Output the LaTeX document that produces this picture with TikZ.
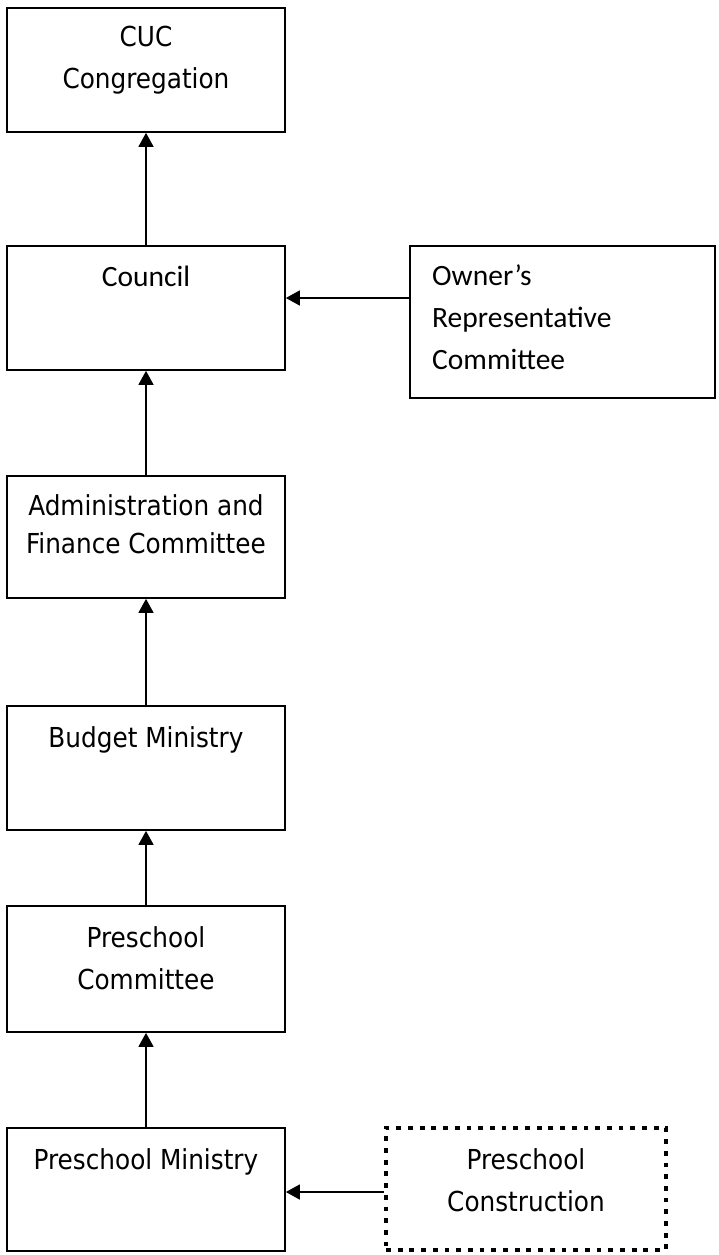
\documentclass[tikz,border=0pt]{standalone}
\usepackage{fontspec}
\setmainfont{DejaVu Sans Condensed}
\newfontfamily\calfont{Carlito}
\usetikzlibrary{arrows.meta}
\begin{document}
\begin{tikzpicture}[x=1pt,y=-1pt,
  box/.style={draw, line width=1.7pt, inner sep=0pt},
  dotbox/.style={draw, line width=4.5pt, dash pattern=on 4.8pt off 6.9pt, inner sep=0pt},
  txt/.style={font=\fontsize{27.5}{42}\selectfont, align=center, inner sep=0pt, anchor=north},
  ctxt/.style={font=\calfont\fontsize{29.5}{42}\selectfont, align=left, inner sep=0pt},
  arr/.style={line width=1.5pt, -{Triangle[width=15pt,length=14pt]}}]
\useasboundingbox (0,0) rectangle (718,1255);
% boxes
\node[box, minimum width=278pt, minimum height=124pt] (cuc) at (146,70) {};
\node[box, minimum width=278pt, minimum height=124pt] (council) at (146,308) {};
\node[box, minimum width=305pt, minimum height=152pt] (owner) at (562.5,322) {};
\node[box, minimum width=278pt, minimum height=122pt] (admin) at (146,537) {};
\node[box, minimum width=278pt, minimum height=124pt] (budget) at (146,768) {};
\node[box, minimum width=278pt, minimum height=126pt] (pcomm) at (146,969) {};
\node[box, minimum width=278pt, minimum height=123pt] (pmin) at (146,1189.5) {};
\node[dotbox, minimum width=280pt, minimum height=122pt] (pcons) at (526,1189) {};
% texts
\node[txt] (tcuc) at (146,26) {CUC\\Congregation};
\node[ctxt, anchor=north] (tcouncil) at (146,266) {Council};
\node[ctxt, anchor=north west] (towner) at (432,264.5) {Owner’s\\Representative\\Committee};
\node[txt, font=\fontsize{27.5}{38}\selectfont] (tadmin) at (146,494) {Administration and\\Finance Committee};
\node[txt] (tbudget) at (146,726) {Budget Ministry};
\node[txt] (tpcomm) at (146,926) {Preschool\\Committee};
\node[txt] (tpmin) at (146,1148) {Preschool Ministry};
\node[txt] (tpcons) at (526,1148) {Preschool\\Construction};
% connectors
\coordinate (ay) at (0,298);
\coordinate (by) at (0,1192);
\draw[arr] (council.north) -- (cuc.south);
\draw[arr] (admin.north) -- (council.south);
\draw[arr] (budget.north) -- (admin.south);
\draw[arr] (pcomm.north) -- (budget.south);
\draw[arr] (pmin.north) -- (pcomm.south);
\draw[arr] (owner.west |- ay) -- (council.east |- ay);
\draw[arr] (pcons.west |- by) -- (pmin.east |- by);
\end{tikzpicture}
\end{document}
